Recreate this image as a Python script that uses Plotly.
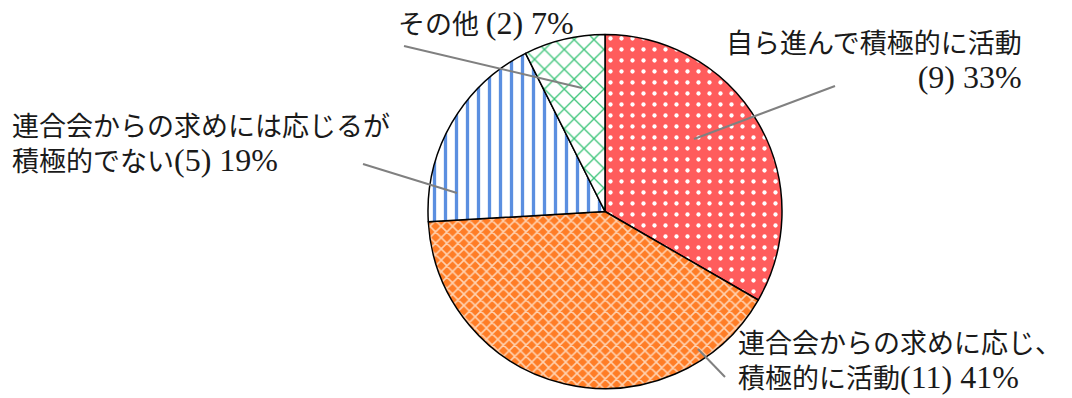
import plotly.graph_objects as go

# Survey responses (count per category), clockwise from 12 o'clock
categories = [
    "自ら進んで積極的に活動",
    "連合会からの求めに応じ、積極的に活動",
    "連合会からの求めには応じるが積極的でない",
    "その他",
]
counts = [9, 11, 5, 2]

W, H = 1072, 398
total = sum(counts)
pct = [round(c * 100 / total) for c in counts]

# Fill patterns for each slice
pat_shape = [".", "x", "|", "x"]
pat_bg = ["#ff5c5c", "#ff7d26", "#ffffff", "#ffffff"]
pat_fg = ["#ffffff", "#ffd2b0", "#5b8fe0", "#3ec47a"]
pat_size = [11, 8, 11, 14]
pat_solid = [0.12, 0.35, 0.3, 0.18]


def px(x):
    return x / W


def py(y):
    return 1 - y / H


def num(s):
    # Latin figures set a little larger than the kana/kanji
    return f'<span style="font-size:32px">{s}</span>'


cx, cy, r = 605, 211.5, 177

fig = go.Figure(
    go.Pie(
        labels=categories,
        values=counts,
        sort=False,
        direction="clockwise",
        rotation=0,
        textinfo="none",
        hoverinfo="label+value+percent",
        marker=dict(
            colors=pat_bg,
            line=dict(color="#000000", width=1.5),
            pattern=dict(
                shape=pat_shape,
                bgcolor=pat_bg,
                fgcolor=pat_fg,
                size=pat_size,
                solidity=pat_solid,
                fillmode="replace",
            ),
        ),
        domain=dict(x=[px(cx - r), px(cx + r)], y=[py(cy + r), py(cy - r)]),
        showlegend=False,
    )
)

font = dict(family="Liberation Serif, Noto Sans CJK JP", size=27, color="#1a1a1a")

labels = [
    # (text, x, y, xanchor, align)
    (f"自ら進んで積極的に活動<br>{num(f'({counts[0]}) {pct[0]}%')}", 1024, 62, "right", "right"),
    (f"連合会からの求めに応じ、<br>積極的に活動{num(f'({counts[1]}) {pct[1]}%')}", 736, 362, "left", "left"),
    (f"連合会からの求めには応じるが<br>積極的でない{num(f'({counts[2]}) {pct[2]}%')}", 10, 145, "left", "left"),
    (f"その他 {num(f'({counts[3]}) {pct[3]}%')}", 396, 23, "left", "left"),
]
for text, x, y, xa, al in labels:
    fig.add_annotation(
        text=text, x=px(x), y=py(y), xref="paper", yref="paper",
        xanchor=xa, yanchor="middle", align=al, showarrow=False, font=font,
    )

# Leader lines from labels into slices
leaders = [
    ((835, 86), (694, 139)),
    ((725, 377), (698, 349)),
    ((363, 164), (457, 193)),
    ((404, 46), (582, 88)),
]
for (x0, y0), (x1, y1) in leaders:
    fig.add_shape(
        type="line", xref="paper", yref="paper",
        x0=px(x0), y0=py(y0), x1=px(x1), y1=py(y1),
        line=dict(color="#808080", width=2),
    )

fig.update_layout(
    width=W, height=H,
    margin=dict(l=0, r=0, t=0, b=0),
    paper_bgcolor="white",
    plot_bgcolor="white",
)

fig.write_html("out.html")
